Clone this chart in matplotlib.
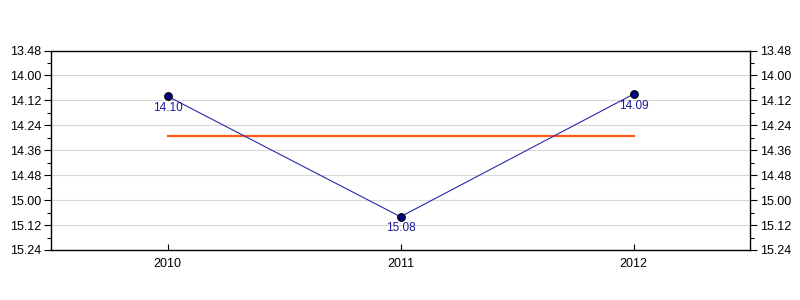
import matplotlib
matplotlib.use("Agg")
import matplotlib.pyplot as plt
from matplotlib.ticker import FixedLocator, FuncFormatter, MultipleLocator

plt.rcParams['font.family'] = ['Liberation Sans', 'DejaVu Sans']

years = [2010, 2011, 2012]
times_mmss = ["14.10", "15.08", "14.09"]   # minutes.seconds
y_tick_labels = ["13.48", "14.00", "14.12", "14.24", "14.36", "14.48", "15.00", "15.12", "15.24"]


def to_sec(s):
    m, sec = s.split(".")
    return int(m) * 60 + int(sec)


def fmt(v, pos=None):
    v = int(round(v))
    return f"{v // 60}.{v % 60:02d}"


secs = [to_sec(t) for t in times_mmss]
tick_secs = [to_sec(t) for t in y_tick_labels]
avg = sum(secs) / len(secs)

fig = plt.figure(figsize=(8, 3), dpi=100)
ax = fig.add_axes([51 / 800, 50 / 300, (750 - 51) / 800, (250 - 50.5) / 300])

ax.set_xlim(2009.5, 2012.5)
ax.set_ylim(tick_secs[-1], tick_secs[0])  # inverted

ax.yaxis.set_major_locator(FixedLocator(tick_secs))
ax.yaxis.set_major_formatter(FuncFormatter(fmt))
ax.yaxis.set_minor_locator(MultipleLocator(6))
ax.set_xticks(years)
ax.set_xticklabels([str(y) for y in years])

ax.grid(axis='y', which='major', color='#d8d8d8', linewidth=0.8)
ax.set_axisbelow(True)

ax.plot([years[0], years[-1]], [avg, avg], color='#ff5a14', linewidth=1.6, zorder=2)
ax.plot(years, secs, color='#2a2aaa', linewidth=0.8, zorder=3,
        marker='o', markersize=5.5, markerfacecolor='#000080', markeredgecolor='black',
        markeredgewidth=0.8)

for x, s, t in zip(years, secs, times_mmss):
    ax.annotate(t, (x, s), xytext=(0, -4), textcoords='offset points',
                ha='center', va='top', fontsize=8.5, color='#1a1a9a')

for sp in ax.spines.values():
    sp.set_linewidth(1.0)
    sp.set_color('black')

ax.tick_params(axis='y', which='major', direction='out', length=5, width=0.8,
               labelsize=9, left=True, right=True, labelleft=True, labelright=True, pad=2)
ax.tick_params(axis='y', which='minor', direction='out', length=3, width=0.8,
               left=True, right=True)
ax.tick_params(axis='x', which='major', direction='in', length=4, width=0.8,
               labelsize=9, pad=6)

fig.savefig("out.png", dpi=100)
